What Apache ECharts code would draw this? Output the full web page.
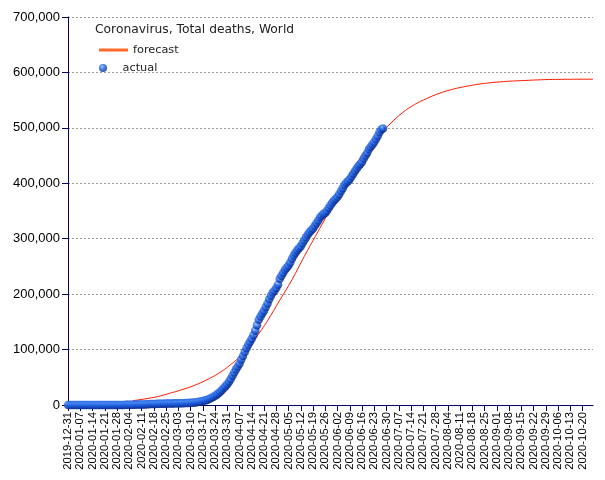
<!DOCTYPE html>
<html>
<head>
<meta charset="utf-8">
<script src="https://cdn.jsdelivr.net/npm/echarts@6/dist/echarts.min.js"></script>
<style>html,body{margin:0;padding:0;background:#fff}#c{width:605px;height:480px}</style>
</head>
<body>
<div id="c"></div>
<script>
// ---- data ----
const startDate = '2019-12-31';
const endDate = '2020-10-26';
const chartTitle = 'Coronavirus, Total deaths, World';
const yTicks = [0, 100000, 200000, 300000, 400000, 500000, 600000, 700000];

// actual cumulative deaths, daily from 2019-12-31
const actualValues = [
  0,
  0,0,0,0,0,0,0,0,0,0,
  1,1,1,1,1,1,2,2,2,3,
  6,9,17,18,26,42,56,82,131,133,171,
  213,259,362,426,492,564,634,719,806,906,1013,1113,1118,1371,1523,1666,1770,1868,2007,2122,2247,2251,2458,2469,2629,2708,2770,2814,2872,
  2941,2996,3085,3160,3254,3348,3460,3558,3802,3988,4262,4615,4720,5404,5819,6440,7126,7905,8733,9867,11299,12973,14623,16497,18615,21181,23970,27198,30652,33925,37582,
  42107,46809,52983,58787,64606,69374,74565,81865,88338,95455,102525,108503,114090,119481,125983,134176,143800,153822,159510,165044,169985,176583,183067,190858,197159,202846,206544,211167,217153,227638,
  233388,238650,243808,247470,251537,257239,263831,269567,274898,279311,282709,286330,291942,297197,302418,307666,311781,315185,318481,323285,328115,332924,338160,342097,345059,346232,350453,355629,360308,364867,369126,
  372035,375543,380249,385947,391136,396880,400857,403617,407067,412236,417417,422245,426769,431190,434571,438380,444817,450251,455300,461647,466047,470194,474276,479778,485234,491949,497014,499000
];

// forecast, read at roughly weekly dates
const forecastDates = [
  '2020-02-06','2020-02-13','2020-02-20','2020-02-27','2020-03-05','2020-03-12','2020-03-19','2020-03-26',
  '2020-04-02','2020-04-09','2020-04-16','2020-04-23','2020-04-30','2020-05-07','2020-05-14','2020-05-21',
  '2020-05-28','2020-06-04','2020-06-11','2020-06-18','2020-06-25','2020-07-02','2020-07-09','2020-07-16',
  '2020-07-23','2020-07-30','2020-08-06','2020-08-13','2020-08-20','2020-08-27','2020-09-03','2020-09-10',
  '2020-09-17','2020-09-24','2020-10-01','2020-10-08','2020-10-15','2020-10-26'
];
const forecastValues = [
  7800,11000,15000,21000,27500,35000,45000,57000,
  73000,93000,120000,152000,189000,226000,268000,308000,
  348000,388000,426000,459000,484000,507000,527000,542000,
  553000,562000,569000,574000,578000,581000,583000,584500,
  585500,586500,587200,587500,587700,587800
];

// ---- build categories (daily) ----
function fmt(d){
  const m = String(d.getUTCMonth()+1).padStart(2,'0');
  const dd = String(d.getUTCDate()).padStart(2,'0');
  return d.getUTCFullYear()+'-'+m+'-'+dd;
}
const categories = [];
{
  let d = new Date(startDate+'T00:00:00Z');
  const e = new Date(endDate+'T00:00:00Z');
  while (d <= e) { categories.push(fmt(d)); d = new Date(d.getTime()+86400000); }
}
const forecastData = forecastDates.map((dt,i)=>[categories.indexOf(dt), forecastValues[i]]);
const actualData = actualValues.map((v,i)=>[i, v]);

const sphere = {
  type:'radial', x:0.38, y:0.33, r:0.72,
  colorStops:[
    {offset:0, color:'#a8d2ff'},
    {offset:0.25, color:'#3a80f2'},
    {offset:0.6, color:'#1650d0'},
    {offset:1, color:'#062074'}
  ]
};
const legendText = {fontFamily:'DejaVu Sans', fontSize:11.3, color:'#222'};

const chart = echarts.init(document.getElementById('c'), null, {renderer:'canvas'});
chart.setOption({
  animation:false,
  backgroundColor:'#fff',
  title:{
    text: chartTitle, left:95, top:24, padding:0,
    textStyle:{fontFamily:'DejaVu Sans', fontSize:12.3, fontWeight:'normal', color:'#222'}
  },
  legend:[{
    data:[{name:'forecast', icon:'rect'}],
    orient:'vertical', left:99, top:43, padding:0, itemWidth:29, itemHeight:3,
    itemStyle:{color:'#ff6a2a'},
    textStyle:Object.assign({lineHeight:14}, legendText)
  },{
    data:[{name:'actual', icon:'circle'}],
    orient:'vertical', left:99, top:61, padding:0, itemWidth:29, itemHeight:8,
    textStyle:Object.assign({lineHeight:14}, legendText)
  }],
  grid:{left:68, right:12, top:17, bottom:75},
  xAxis:{
    type:'category', data:categories, boundaryGap:false,
    axisLine:{lineStyle:{color:'#000066', width:1}},
    axisTick:{interval:6, length:6, lineStyle:{color:'#000066'}},
    axisLabel:{interval:6, rotate:90, margin:7, fontFamily:'Liberation Sans', fontSize:11.3, color:'#000'},
    splitLine:{show:false}
  },
  yAxis:{
    type:'value', min:yTicks[0], max:yTicks[yTicks.length-1], interval:yTicks[1]-yTicks[0],
    axisLine:{show:true, lineStyle:{color:'#000066', width:1}},
    axisTick:{show:true, length:6, lineStyle:{color:'#000066'}},
    axisLabel:{margin:8, fontFamily:'Liberation Sans', fontSize:13, color:'#000',
      formatter:v=>v.toLocaleString('en-US')},
    splitLine:{show:true, lineStyle:{color:'#999', type:[2,2], width:1}}
  },
  series:[
    {
      name:'forecast', type:'line', data:forecastData, smooth:0.4,
      symbol:'none', lineStyle:{color:'#ff1a00', width:1}, itemStyle:{color:'#ff6a2a'}, z:2
    },
    {
      name:'actual', type:'scatter', data:actualData, symbol:'circle', symbolSize:8.5,
      itemStyle:{color:sphere}, z:3
    }
  ]
});
</script>
</body>
</html>
